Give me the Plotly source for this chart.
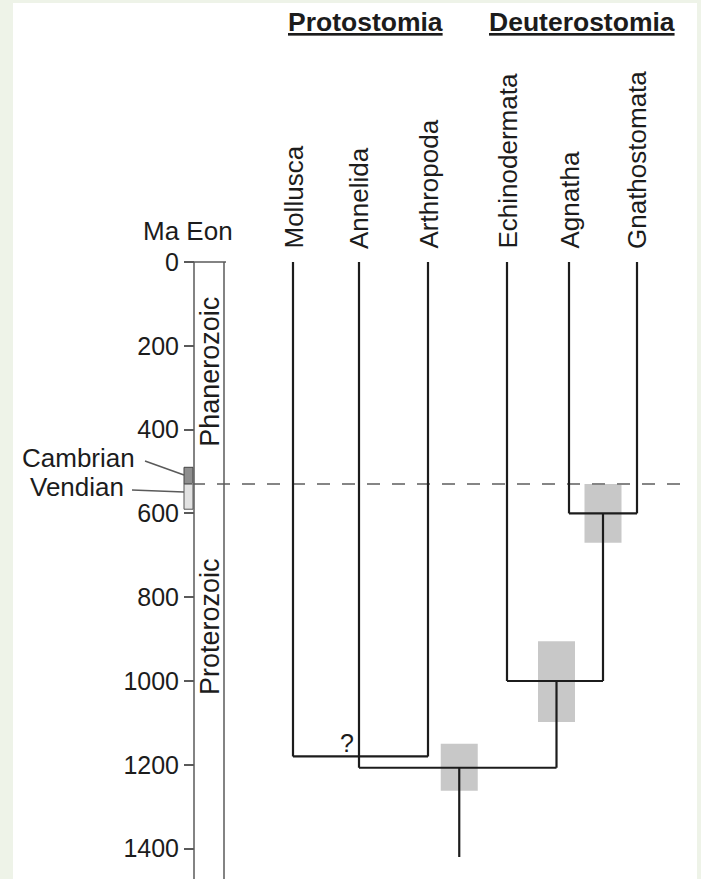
import plotly.graph_objects as go

# ---------------- data ----------------
taxa = ["Mollusca", "Annelida", "Arthropoda", "Echinodermata", "Agnatha", "Gnathostomata"]
clades = ["Protostomia", "Deuterostomia"]
ma_ticks = [0, 200, 400, 600, 800, 1000, 1200, 1400]
eons = ["Phanerozoic", "Proterozoic"]
periods = ["Cambrian", "Vendian"]

# divergence ages (Ma)
age_agnatha_gnathostomata = 600
age_echinodermata_vertebrata = 1000
age_mollusca_arthropoda = 1180
age_protostomia_deuterostomia = 1207
age_root_base = 1420
cambrian_base = 530

# uncertainty ranges (Ma)
ci_vertebrata = [530, 670]
ci_deuterostomia = [905, 1098]
ci_root = [1150, 1262]

cambrian = [490, 530]
vendian = [530, 590]
phanerozoic_mid = 262
proterozoic_mid = 871
question_age = 1148

# ---------------- layout constants ----------------
W, H = 701, 879
PX_PER_MA = 0.419
Y0_PX = 262
y_top = -Y0_PX / PX_PER_MA
y_bot = (H - Y0_PX) / PX_PER_MA

TAXON_X = [293, 359, 428, 507, 569, 637]
AXIS_X = 194
EON_RIGHT = 224
BOX_W = 37
FONT = "Liberation Sans, Arial, sans-serif"
INK = "#1c1c1c"
AXIS_C = "#5a5a5a"

def px_to_ma(py):
    return (py - Y0_PX) / PX_PER_MA

xm, xan, xar, xe, xag, xg = TAXON_X
x_vert = (xag + xg) / 2
x_deut = (xe + x_vert) / 2 + 1.5
x_root = (xan + x_deut) / 2 + 1.5

fig = go.Figure()

# background panel
fig.add_shape(type="rect", xref="paper", yref="paper",
              x0=13 / W, x1=697 / W, y0=0, y1=1 - 3 / H,
              fillcolor="white", line_width=0, layer="below")

# uncertainty boxes
for xc, (a0, a1) in [(x_vert, ci_vertebrata), (x_deut, ci_deuterostomia), (x_root, ci_root)]:
    fig.add_shape(type="rect", xref="x", yref="y",
                  x0=xc - BOX_W / 2, x1=xc + BOX_W / 2, y0=a0, y1=a1,
                  fillcolor="#c8c8c8", line_width=0, layer="below")

# Cambrian / Vendian small boxes
fig.add_shape(type="rect", xref="x", yref="y", x0=184, x1=AXIS_X - 1,
              y0=cambrian[0], y1=cambrian[1], fillcolor="#8e8e8e",
              line=dict(color="#444", width=1), layer="below")
fig.add_shape(type="rect", xref="x", yref="y", x0=184, x1=AXIS_X - 1,
              y0=vendian[0], y1=vendian[1], fillcolor="#e2e2e2",
              line=dict(color="#555", width=1), layer="below")

def seg_trace(segs, color, width, dash=None):
    xs, ys = [], []
    for (x0, y0), (x1, y1) in segs:
        xs += [x0, x1, None]
        ys += [y0, y1, None]
    return go.Scatter(x=xs, y=ys, mode="lines",
                      line=dict(color=color, width=width, dash=dash),
                      hoverinfo="skip", showlegend=False)

# dashed Cambrian base line
fig.add_trace(seg_trace([((AXIS_X - 2, cambrian_base), (690, cambrian_base))],
                        "#858585", 2, "13px,12px"))

# eon column & leader lines
eon_segs = [
    ((AXIS_X, 0), (AXIS_X, y_bot)),
    ((EON_RIGHT, 0), (EON_RIGHT, y_bot)),
    ((AXIS_X, 0), (EON_RIGHT + 2, 0)),
    ((145, px_to_ma(461)), (184, px_to_ma(475))),
    ((132, px_to_ma(490)), (184, px_to_ma(492))),
]
fig.add_trace(seg_trace(eon_segs, AXIS_C, 1.5))

# tree
tree = [
    ((xm, 0), (xm, age_mollusca_arthropoda)),
    ((xar, 0), (xar, age_mollusca_arthropoda)),
    ((xm, age_mollusca_arthropoda), (xar, age_mollusca_arthropoda)),
    ((xan, 0), (xan, age_protostomia_deuterostomia)),
    ((xan, age_protostomia_deuterostomia), (x_deut, age_protostomia_deuterostomia)),
    ((x_root, age_protostomia_deuterostomia), (x_root, age_root_base)),
    ((xe, 0), (xe, age_echinodermata_vertebrata)),
    ((xe, age_echinodermata_vertebrata), (x_vert, age_echinodermata_vertebrata)),
    ((x_deut, age_echinodermata_vertebrata), (x_deut, age_protostomia_deuterostomia)),
    ((x_vert, age_agnatha_gnathostomata), (x_vert, age_echinodermata_vertebrata)),
    ((xag, 0), (xag, age_agnatha_gnathostomata)),
    ((xg, 0), (xg, age_agnatha_gnathostomata)),
    ((xag, age_agnatha_gnathostomata), (xg, age_agnatha_gnathostomata)),
]
fig.add_trace(seg_trace(tree, INK, 2.2))

ann = []
for name, x in zip(taxa, TAXON_X):
    ann.append(dict(x=x, y=0, xref="x", yref="y", text=name, textangle=-90,
                    xanchor="center", yanchor="bottom", yshift=11, showarrow=False,
                    font=dict(size=26, color=INK, family=FONT)))
for name, x in zip(clades, [365, 582]):
    ann.append(dict(x=x, y=1 - 22 / H, xref="x", yref="paper",
                    text="<b><span style='text-decoration:underline'>%s</span></b>" % name,
                    xanchor="center", yanchor="middle", showarrow=False,
                    font=dict(size=26.5, color=INK, family=FONT)))
ann.append(dict(x=188, y=1 - 231 / H, xref="x", yref="paper", text="Ma Eon",
                xanchor="center", yanchor="middle", showarrow=False,
                font=dict(size=26, color=INK, family=FONT)))
ann.append(dict(x=137, y=px_to_ma(458), xref="x", yref="y", text=periods[0],
                xanchor="right", yanchor="middle", showarrow=False,
                font=dict(size=26, color=INK, family=FONT)))
ann.append(dict(x=126, y=px_to_ma(487), xref="x", yref="y", text=periods[1],
                xanchor="right", yanchor="middle", showarrow=False,
                font=dict(size=26, color=INK, family=FONT)))
for name, mid in zip(eons, [phanerozoic_mid, proterozoic_mid]):
    ann.append(dict(x=(AXIS_X + EON_RIGHT) / 2 + 1, y=mid, xref="x", yref="y", text=name,
                    textangle=-90, xanchor="center", yanchor="middle", showarrow=False,
                    font=dict(size=27, color=INK, family=FONT)))
ann.append(dict(x=347, y=question_age, xref="x", yref="y", text="?",
                xanchor="center", yanchor="middle", showarrow=False,
                font=dict(size=25, color=INK, family=FONT)))

fig.update_layout(
    width=W, height=H, margin=dict(l=0, r=0, t=0, b=0),
    paper_bgcolor="#eef3e8", plot_bgcolor="rgba(0,0,0,0)",
    showlegend=False, annotations=ann,
    xaxis=dict(range=[0, W], visible=False, fixedrange=True),
    yaxis=dict(range=[y_bot, y_top], anchor="free", position=AXIS_X / W,
               side="left", showline=False, showgrid=False, zeroline=False,
               ticks="outside", ticklen=10, tickwidth=1.5, tickcolor=AXIS_C,
               tickvals=ma_ticks, ticktext=[str(t) for t in ma_ticks],
               tickfont=dict(size=25, color=INK, family=FONT), fixedrange=True),
)

fig.write_html("out.html", config={"displayModeBar": False},
               post_script="document.body.style.margin='0';document.body.style.overflow='hidden';")
